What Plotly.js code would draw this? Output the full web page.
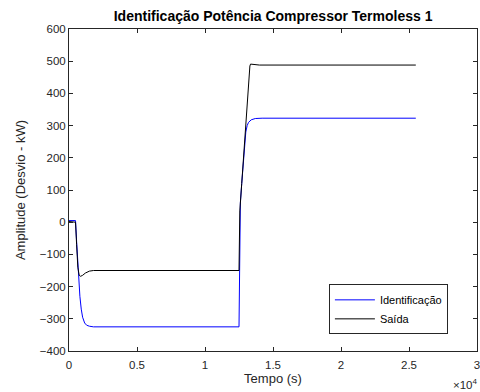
<!DOCTYPE html>
<html>
<head>
<meta charset="utf-8">
<script src="https://cdn.plot.ly/plotly-3.0.1.min.js"></script>
<style>html,body{margin:0;padding:0;background:#fff;}#chart{width:480px;height:392px;}</style>
</head>
<body>
<div id="chart"></div>
<script>
const identT = [0, 480, 560, 700, 800, 900, 1000, 1150, 1300, 1500, 1800, 12500, 12540, 12600, 12700, 12800, 12900, 13000, 13100, 13200, 13400, 13700, 14200, 25500];
const identY = [5, 5, -60, -170, -230, -270, -295, -313, -320, -323, -325, -325, 0, 60, 120, 180, 240, 280, 300, 310, 318, 322, 323, 323];
const saidaT = [0, 480, 560, 650, 750, 850, 1000, 1200, 1500, 1800, 12500, 12510, 12560, 12700, 12850, 13000, 13150, 13250, 13300, 13350, 13500, 14000, 25500];
const saidaY = [2, 0, -70, -140, -165, -168, -165, -158, -152, -150, -150, 30, 35, 120, 215, 310, 405, 470, 485, 491, 490, 488, 488];
const xTickVals = [0, 5000, 10000, 15000, 20000, 25000, 30000];
const xTickText = ['0', '0.5', '1', '1.5', '2', '2.5', '3'];
const yTickVals = [-400, -300, -200, -100, 0, 100, 200, 300, 400, 500, 600];

const fontFam = 'Liberation Sans, Arial, sans-serif';
const axCol = '#262626';

const traces = [
  {x: identT, y: identY, name: 'Identificação', type: 'scatter', mode: 'lines', line: {color: '#0000ff', width: 1}},
  {x: saidaT, y: saidaY, name: 'Saída', type: 'scatter', mode: 'lines', line: {color: '#000000', width: 1}}
];

const layout = {
  width: 480, height: 392,
  margin: {l: 69, r: 3, t: 29, b: 41},
  paper_bgcolor: '#ffffff', plot_bgcolor: '#ffffff',
  font: {family: fontFam, size: 11.5, color: axCol},
  title: {text: '<b>Identificação Potência Compressor Termoless 1</b>', font: {size: 14, color: '#000', family: fontFam}, x: 0.569, xanchor: 'center', y: 0.959, yanchor: 'middle'},
  xaxis: {
    range: [0, 30000], tickvals: xTickVals, ticktext: xTickText,
    showgrid: false, zeroline: false, showline: true, linecolor: axCol, linewidth: 1, mirror: 'ticks',
    ticks: 'inside', ticklen: 4, tickcolor: axCol, tickfont: {size: 11.5, color: axCol}, ticklabeloverflow: 'allow', ticklabelstandoff: 3,
    title: {text: 'Tempo (s)', font: {size: 13, color: axCol}, standoff: 3}
  },
  yaxis: {
    range: [-400, 600], tickvals: yTickVals,
    showgrid: false, zeroline: false, showline: true, linecolor: axCol, linewidth: 1, mirror: 'ticks',
    ticks: 'inside', ticklen: 4, tickcolor: axCol, tickfont: {size: 11.5, color: axCol}, ticklabeloverflow: 'allow',
    title: {text: 'Amplitude (Desvio - kW)', font: {size: 13, color: axCol}, standoff: 11}
  },
  showlegend: true,
  legend: {x: 0.637, y: 0.207, xanchor: 'left', yanchor: 'top', bgcolor: '#ffffff', bordercolor: '#262626', borderwidth: 1,
           font: {size: 11, color: '#000'}, tracegroupgap: 0, itemwidth: 40},
  annotations: [
    {text: '×10<sup>4</sup>', xref: 'paper', yref: 'paper', x: 1.0074, y: -0.1025, xanchor: 'right', yanchor: 'middle', showarrow: false, font: {size: 11.5, color: axCol}}
  ]
};

Plotly.newPlot('chart', traces, layout, {displayModeBar: false, staticPlot: true});
</script>
</body>
</html>
